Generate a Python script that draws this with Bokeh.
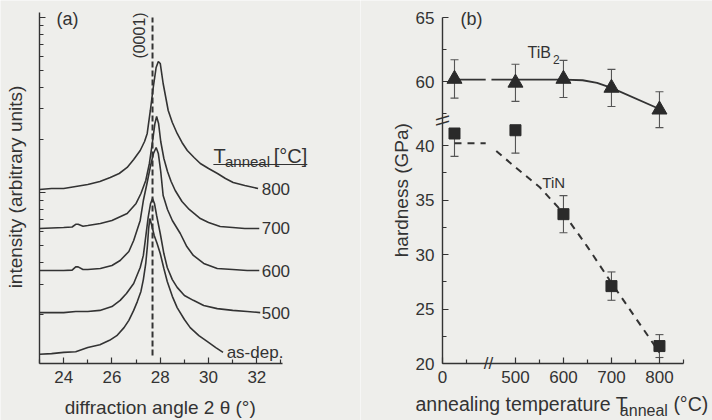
import numpy as np
from bokeh.plotting import figure
from bokeh.layouts import row
from bokeh.models import Range1d, FixedTicker, Label, Whisker, ColumnDataSource, TeeHead, CustomJSTickFormatter
from bokeh.embed import file_html
from bokeh.resources import INLINE

# ---------------- panel (a): XRD scans (2theta in deg, intensity in arb. units, log axis)
tt_asdep = [23.0, 23.5, 24.0, 24.5, 25.0, 25.5, 25.9, 26.2, 26.5, 26.7, 26.9, 27.05, 27.2, 27.3, 27.4, 27.47,
            27.52, 27.57, 27.65, 27.75, 27.87, 28.0, 28.15, 28.29, 28.5, 28.7, 29.0, 29.24, 29.6, 29.94, 30.3, 30.6]
int_asdep = [11.9, 12.0, 12.2, 12.3, 13.0, 13.5, 14.3, 15.2, 16.9, 18.6, 21.2, 23.8, 27.2, 31.8, 39.3, 49.8,
             62.3, 71.0, 64.8, 56.8, 51.1, 44.8, 36.8, 31.0, 25.5, 22.0, 18.8, 16.9, 15.2, 14.1, 13.0, 12.2]

tt_500 = [23.0, 24.0, 24.5, 25.0, 25.5, 26.0, 26.34, 26.6, 26.9, 27.17, 27.3, 27.38, 27.5, 27.6, 27.68,
          27.76, 27.85, 28.0, 28.15, 28.29, 28.5, 28.7, 29.0, 29.37, 29.8, 30.36, 31.0, 31.6, 32.14]
int_500 = [20.6, 20.6, 20.9, 20.9, 21.2, 22.3, 24.2, 26.5, 30.2, 37.3, 43.7, 53.2, 72.0, 86.6, 92.4,
           86.6, 73.9, 58.3, 44.8, 37.3, 31.8, 28.7, 25.8, 24.2, 22.6, 21.7, 21.2, 20.9, 20.6]

tt_600 = [23.0, 24.0, 24.35, 24.5, 24.6, 24.8, 25.0, 25.52, 26.0, 26.34, 26.7, 26.9, 27.17, 27.3, 27.45, 27.6,
          27.72, 27.83, 27.92, 28.02, 28.12, 28.3, 28.5, 28.83, 29.1, 29.37, 29.8, 30.36, 31.0, 31.6, 32.1]
int_600 = [35.8, 35.8, 36.0, 37.6, 37.6, 36.3, 36.3, 36.8, 38.3, 40.9, 46.0, 53.2, 69.2, 90.0, 112.6, 142.7,
           167.1, 180.8, 167.1, 131.8, 96.1, 80.0, 69.2, 58.3, 49.1, 43.7, 39.3, 36.8, 36.3, 35.8, 35.8]

tt_700 = [23.0, 24.0, 24.35, 24.5, 24.6, 24.8, 25.0, 25.52, 26.0, 26.63, 27.0, 27.2, 27.4, 27.55, 27.68, 27.78,
          27.85, 27.93, 28.02, 28.15, 28.3, 28.45, 28.62, 28.9, 29.2, 29.66, 30.0, 30.48, 31.0, 31.5, 32.1]
int_700 = [62.3, 63.1, 63.5, 65.8, 65.8, 64.2, 64.8, 66.5, 69.2, 75.9, 86.6, 98.7, 117.1, 146.5, 195.6, 248.0,
           271.9, 248.0, 195.6, 156.4, 131.8, 115.6, 102.7, 88.8, 80.0, 71.0, 67.4, 63.9, 63.1, 62.3, 62.3]

tt_800 = [23.0, 23.5, 24.0, 24.5, 25.0, 25.5, 25.93, 26.3, 26.63, 26.9, 27.17, 27.35, 27.46, 27.59, 27.71,
          27.83, 27.92, 28.0, 28.12, 28.33, 28.5, 28.7, 28.9, 29.12, 29.4, 29.66, 30.0, 30.37, 30.7, 31.02,
          31.5, 32.05]
int_800 = [104.0, 105.4, 105.4, 108.2, 111.1, 115.6, 121.8, 128.4, 139.0, 154.4, 173.8, 195.6, 217.4, 294.2,
           398.1, 518.0, 560.6, 546.1, 419.6, 294.2, 251.2, 217.4, 193.1, 173.8, 158.5, 146.5, 137.2, 128.4,
           120.2, 114.1, 109.6, 105.4]

curve_labels = ["as-dep.", "500", "600", "700", "800"]
peak_0001 = 27.68            # TiB2 (0001) reference position
x_ticks_a = [24, 26, 28, 30, 32]
x_minor_a = [23, 25, 27, 29, 31, 33]
y_ticks_a = [100, 1000]
y_minor_a = [20, 30, 40, 50, 60, 70, 80, 90, 200, 300, 400, 500, 600, 700, 800, 900]

# ---------------- panel (b): hardness vs annealing temperature
temps = [25, 500, 600, 700, 800]
tib2 = [60.2, 59.9, 60.2, 59.5, 57.8]
tib2_err = [1.5, 1.45, 1.45, 1.45, 1.4]
tin = [41.1, 41.4, 33.7, 27.1, 21.6]
tin_err_lo = [2.1, 2.1, 1.7, 1.3, 1.05]
tin_err_hi = [0.3, 0.3, 1.7, 1.3, 1.05]
tib2_fit_T = [25, 90, np.nan, 450, 600, 640, 670, 700, 800]
tib2_fit_H = [60.15, 60.15, np.nan, 60.15, 60.15, 60.1, 59.9, 59.5, 57.85]
tin_fit_T = [25, 90, np.nan, 460, 500, 550, 600, 650, 700, 750, 800]
tin_fit_H = [40.2, 40.2, np.nan, 39.5, 38.0, 36.2, 33.8, 30.7, 27.4, 24.2, 21.0]
x_ticks_b = [0, 500, 600, 700, 800]
x_minor_b = [50, 550, 650, 750, 850]
y_ticks_b = [20, 25, 30, 35, 40, 60, 65]
y_minor_b = [22.5, 27.5, 32.5, 37.5, 57.5, 62.5]

FONT = "Liberation Sans"
INK = "#333333"
BG = "#eeeeeb"


# broken-axis scales of panel (b)
def tx(t):
    t = np.asarray(t, dtype=float)
    return np.round(np.where(t < 300, t, t - 348.0), 4)


def ty(h):
    h = np.asarray(h, dtype=float)
    return np.round(np.where(h < 50, h, 45.87 + (h - 60.0) * 1.174), 4)


def lab(p, x, y, text, size, angle=0.0, align="left", baseline="middle"):
    p.add_layout(Label(x=float(x), y=float(y), text=text, text_font=FONT, text_font_size=f"{size}px",
                       text_color=INK, angle=angle, text_align=align, text_baseline=baseline,
                       text_font_style="normal"))


def style_axis(ax, size=17):
    ax.axis_line_color = INK
    ax.axis_line_width = 1.4
    ax.major_tick_line_color = INK
    ax.minor_tick_line_color = INK
    ax.major_tick_line_width = 1.2
    ax.minor_tick_line_width = 1.2
    ax.major_tick_in = 6
    ax.major_tick_out = 0
    ax.minor_tick_in = 4
    ax.minor_tick_out = 0
    ax.major_label_text_font = FONT
    ax.major_label_text_font_size = f"{size}px"
    ax.major_label_text_color = INK
    ax.major_label_standoff = 7


def base_fig(width, xr, yr, **kw):
    p = figure(width=width, height=420, x_range=xr, y_range=yr, output_backend="svg", toolbar_location=None,
               min_border_left=0, min_border_right=0, min_border_top=0, min_border_bottom=0,
               background_fill_color=BG, border_fill_color=BG, outline_line_color=None, **kw)
    p.grid.visible = False
    return p


# ================= panel (a)
pa = base_fig(360, Range1d(21.385, 36.292), Range1d(4.98, 1250.4), y_axis_type="log")
style_axis(pa.xaxis[0])
style_axis(pa.yaxis[0])
pa.xaxis.ticker = FixedTicker(ticks=x_ticks_a, minor_ticks=x_minor_a)
pa.xaxis.bounds = (23, 33.07)
pa.xaxis.fixed_location = 10.54
pa.yaxis.ticker = FixedTicker(ticks=y_ticks_a, minor_ticks=y_minor_a)
pa.yaxis.formatter = CustomJSTickFormatter(code="return ''")
pa.yaxis.bounds = (10.54, 1068)
pa.yaxis.fixed_location = 23

series = [(tt_asdep, int_asdep), (tt_500, int_500), (tt_600, int_600), (tt_700, int_700), (tt_800, int_800)]
for (xs, ys), name in zip(series, curve_labels):
    pa.line(xs, ys, line_color=INK, line_width=1.6)
    lab(pa, 30.75 if name == "as-dep." else 32.2, ys[-1], name, 17)

pa.line([peak_0001, peak_0001], [11.7, 1000], line_color=INK, line_width=2, line_dash="6 3")
lab(pa, 27.13, 789, "(0001)", 16, angle=np.pi / 2, align="center")
lab(pa, 23.7, 974, "(a)", 18)

# T_anneal [°C] legend title with underline
lab(pa, 30.2, 162.5, "T", 20)
lab(pa, 30.68, 150.4, "anneal", 15)
lab(pa, 32.7, 162.5, "[°C]", 20)
pa.line([30.2, 34.09], [144.5, 144.5], line_color=INK, line_width=1.2)

lab(pa, 28.0, 5.91, "diffraction angle 2 θ (°)", 19, align="center")
lab(pa, 22.0, 107.5, "intensity (arbitrary units)", 19, angle=np.pi / 2, align="center")

# ================= panel (b)
pb = base_fig(352, Range1d(-170.83, 562.5), Range1d(14.771, 53.303))
style_axis(pb.xaxis[0])
style_axis(pb.yaxis[0])
pb.yaxis.major_label_standoff = 8

xt = [float(v) for v in tx(x_ticks_b)]
pb.xaxis.ticker = FixedTicker(ticks=xt, minor_ticks=[float(v) for v in tx(x_minor_b)])
pb.xaxis.major_label_overrides = {k: str(t) for k, t in zip(xt, x_ticks_b)}
pb.xaxis.bounds = (0, 502)
pb.xaxis.fixed_location = 20
yt = [float(v) for v in ty(y_ticks_b)]
pb.yaxis.ticker = FixedTicker(ticks=yt, minor_ticks=[float(v) for v in ty(y_minor_b)])
pb.yaxis.major_label_overrides = {k: str(t) for k, t in zip(yt, y_ticks_b)}
pb.yaxis.bounds = (20, 51.74)
pb.yaxis.fixed_location = 0

tib2_a = np.array(tib2)
tib2_e = np.array(tib2_err)
tin_a = np.array(tin)

src_tib2 = ColumnDataSource(dict(x=tx(temps), y=ty(tib2_a), upper=ty(tib2_a + tib2_e), lower=ty(tib2_a - tib2_e)))
src_tin = ColumnDataSource(dict(x=tx(temps), y=ty(tin_a), upper=ty(tin_a + np.array(tin_err_hi)),
                                lower=ty(tin_a - np.array(tin_err_lo))))

for src in (src_tib2, src_tin):
    pb.add_layout(Whisker(source=src, base="x", upper="upper", lower="lower", line_color="#555555",
                          line_width=1.1,
                          upper_head=TeeHead(size=8, line_color="#555555", line_width=1.1),
                          lower_head=TeeHead(size=8, line_color="#555555", line_width=1.1)))

pb.line(tx(tib2_fit_T), ty(tib2_fit_H), line_color=INK, line_width=1.8)
pb.line(tx(tin_fit_T), ty(tin_fit_H), line_color=INK, line_width=2, line_dash="7 6")
pb.scatter("x", "y", source=src_tib2, marker="triangle", size=15, fill_color="#2a2a2a", line_color="#2a2a2a")
pb.scatter("x", "y", source=src_tin, marker="square", size=11, fill_color="#2a2a2a", line_color="#2a2a2a")

lab(pb, 37.5, 51.65, "(b)", 18)
lab(pb, 177, 48.53, "TiB", 16)
lab(pb, 230, 47.85, "2", 12)
lab(pb, 208, 36.6, "TiN", 15)
lab(pb, 96, 20, "//", 17, align="center")
lab(pb, 0, 42.3, "\\\\", 19, angle=np.pi / 2, align="center")

lab(pb, -85.4, 35.9, "hardness (GPa)", 19, angle=np.pi / 2, align="center")
lab(pb, -56.25, 16.24, "annealing temperature T", 19.5)
lab(pb, 369.5, 15.69, "anneal", 16)
lab(pb, 481, 16.24, "(°C)", 19.5)

layout = row(pa, pb)
open("out.html", "w").write(file_html(layout, INLINE))
